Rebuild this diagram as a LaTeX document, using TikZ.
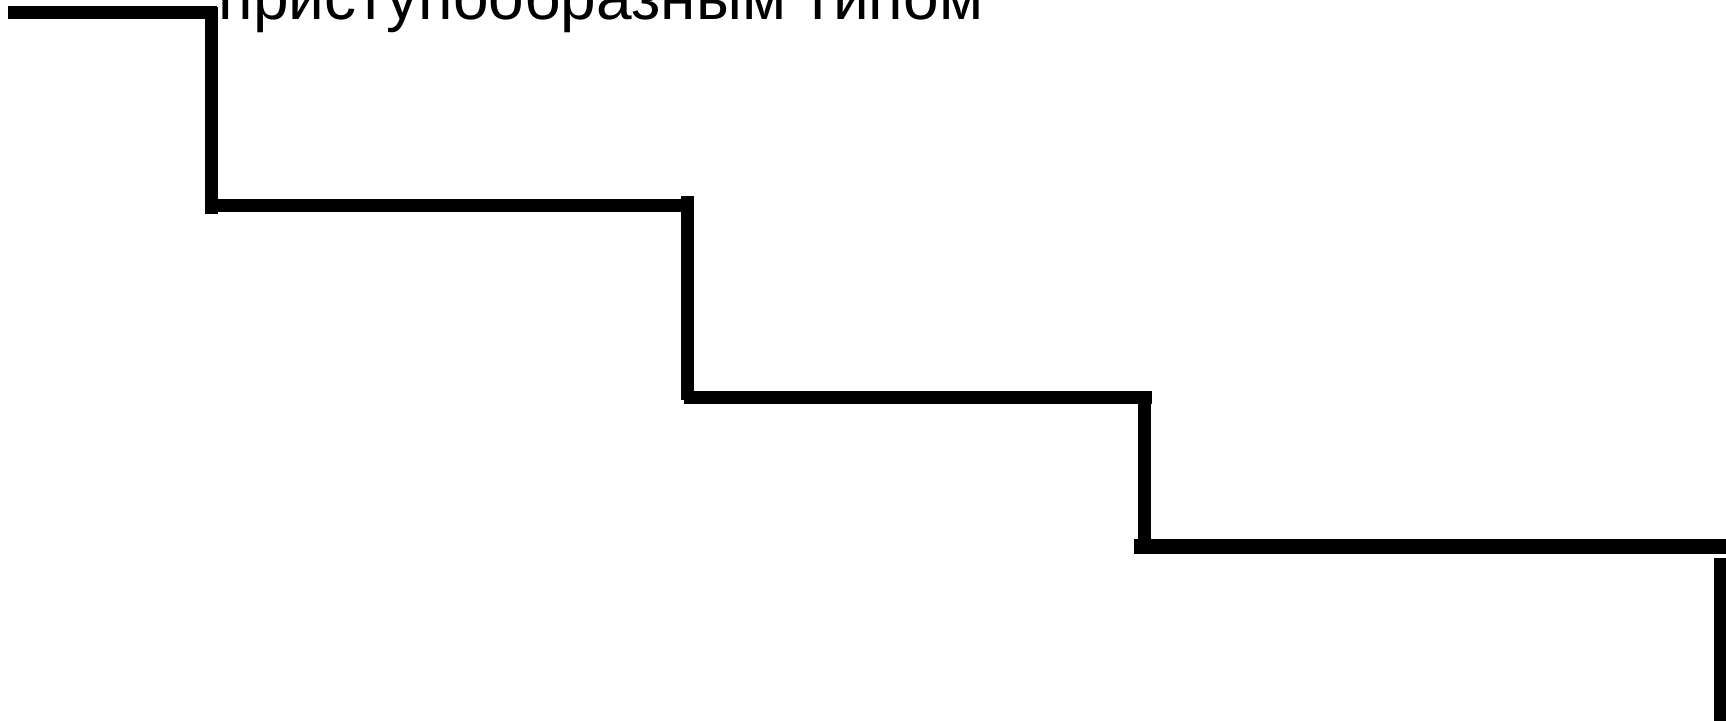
\documentclass[tikz,border=0pt]{standalone}
\usepackage{fontspec}
\setmainfont{Liberation Sans}
\begin{document}
\begin{tikzpicture}[x=0.5pt,y=-0.5pt]
        \tikzstyle{stair}=[line width=6.5pt,line cap=butt]
        \tikzstyle{every node}=[inner sep=0pt,font=\fontsize{32}{38}\selectfont]
        \clip (0,0) rectangle (1726,721);
        \coordinate (s1a) at (8,13);     \coordinate (s1b) at (217,13);
        \coordinate (s2a) at (211,7);    \coordinate (s2b) at (211,214);
        \coordinate (s3a) at (211,206);  \coordinate (s3b) at (682,206);
        \coordinate (s4a) at (687,196);  \coordinate (s4b) at (687,400);
        \coordinate (s5a) at (684,398);  \coordinate (s5b) at (1152,398);
        \coordinate (s6a) at (1144,392); \coordinate (s6b) at (1144,541);
        \coordinate (s7a) at (1134,547); \coordinate (s7b) at (1730,547);
        \coordinate (s8a) at (1720,558); \coordinate (s8b) at (1720,725);
        \node[anchor=base west] (label) at (218,20) {приступообразным типом};
        \draw[stair] (s1a) -- (s1b);
        \draw[stair] (s2a) -- (s2b);
        \draw[stair] (s3a) -- (s3b);
        \draw[stair] (s4a) -- (s4b);
        \draw[stair] (s5a) -- (s5b);
        \draw[stair] (s6a) -- (s6b);
        \draw[stair,line width=7.5pt] (s7a) -- (s7b);
        \draw[stair] (s8a) -- (s8b);
\end{tikzpicture}
\end{document}
